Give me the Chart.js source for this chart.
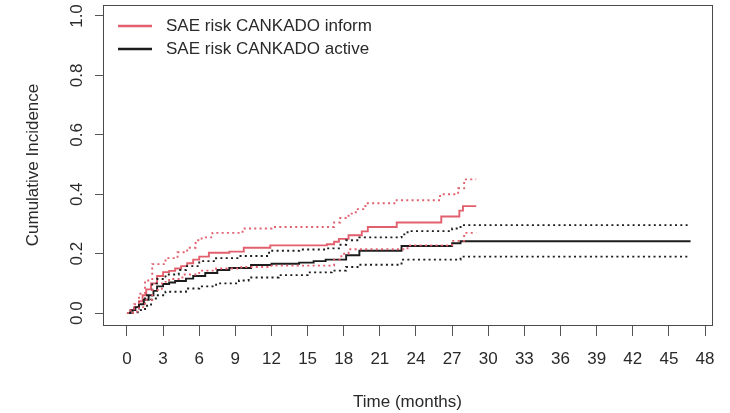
<!DOCTYPE html>
<html>
<head>
<meta charset="utf-8">
<script src="https://cdn.jsdelivr.net/npm/chart.js@4/dist/chart.umd.min.js"></script>
<style>
  html, body { margin: 0; padding: 0; background: #ffffff; }
  #wrap { width: 730px; height: 413px; position: relative; }
</style>
</head>
<body>
<div id="wrap"><canvas id="c" width="730" height="413"></canvas></div>
<script>
// ---- data ----
const seriesNames = ['SAE risk CANKADO inform', 'SAE risk CANKADO active'];
const xTickValues = [0, 3, 6, 9, 12, 15, 18, 21, 24, 27, 30, 33, 36, 39, 42, 45, 48];
const yTickValues = [0, 0.2, 0.4, 0.6, 0.8, 1.0];
const xTitle = 'Time (months)';
const yTitle = 'Cumulative Incidence';

const informTime = [0, 0.3, 0.6, 1.0, 1.3, 1.6, 2.0, 2.5, 3.0, 3.5, 4.0, 4.5, 5.0, 5.5, 6.0, 6.8, 8.5, 9.7, 11.9, 16.6, 17.2, 17.6, 18.4, 19.5, 20.0, 22.4, 26.1, 27.6, 27.9, 29.0];
const informEst  = [0, 0.01, 0.02, 0.04, 0.06, 0.08, 0.10, 0.125, 0.138, 0.142, 0.15, 0.158, 0.168, 0.18, 0.19, 0.203, 0.207, 0.22, 0.228, 0.232, 0.24, 0.25, 0.262, 0.275, 0.29, 0.305, 0.325, 0.345, 0.36, 0.36];

const informUpperTime = [0, 0.3, 0.6, 1.0, 1.5, 2.1, 3.2, 4.2, 5.0, 5.7, 6.2, 7.1, 9.6, 12.0, 17.2, 17.7, 18.4, 19.0, 19.8, 22.4, 26.0, 27.5, 28.0, 29.0];
const informUpper     = [0, 0.01, 0.03, 0.065, 0.11, 0.165, 0.185, 0.205, 0.22, 0.245, 0.255, 0.27, 0.285, 0.29, 0.305, 0.32, 0.335, 0.35, 0.37, 0.38, 0.40, 0.42, 0.45, 0.45];

const informLowerTime = [0, 0.5, 1.0, 1.5, 2.1, 2.9, 3.5, 4.6, 6.0, 7.4, 9.5, 12.0, 17.2, 17.8, 18.4, 23.3, 27.0, 28.0, 29.0];
const informLower     = [0, 0.005, 0.02, 0.045, 0.078, 0.105, 0.115, 0.13, 0.143, 0.15, 0.155, 0.16, 0.18, 0.2, 0.215, 0.228, 0.243, 0.27, 0.27];

const activeTime = [0, 0.3, 0.7, 1.0, 1.4, 1.8, 2.2, 2.5, 3.0, 3.5, 4.0, 4.9, 5.5, 6.5, 7.5, 8.5, 10.3, 12.0, 14.3, 15.5, 16.5, 18.2, 19.3, 22.8, 27.0, 27.7, 46.8];
const activeEst  = [0, 0.01, 0.02, 0.03, 0.045, 0.06, 0.075, 0.09, 0.098, 0.103, 0.108, 0.116, 0.125, 0.135, 0.145, 0.152, 0.162, 0.166, 0.17, 0.175, 0.18, 0.195, 0.21, 0.226, 0.235, 0.242, 0.242];

const activeUpperTime = [0, 0.5, 1.0, 1.5, 2.1, 2.5, 3.2, 4.3, 4.9, 6.0, 7.4, 9.3, 11.8, 14.3, 16.5, 17.6, 18.2, 19.3, 22.8, 23.3, 27.0, 27.7, 46.8];
const activeUpper     = [0, 0.015, 0.035, 0.06, 0.1, 0.115, 0.13, 0.145, 0.158, 0.175, 0.185, 0.192, 0.21, 0.214, 0.218, 0.23, 0.245, 0.255, 0.265, 0.276, 0.285, 0.296, 0.296];

const activeLowerTime = [0, 0.5, 1.0, 1.5, 2.0, 2.4, 3.2, 4.9, 6.0, 7.4, 9.3, 10.1, 12.6, 15.0, 17.0, 18.2, 19.3, 22.8, 27.7, 46.8];
const activeLower     = [0, 0.003, 0.01, 0.025, 0.045, 0.06, 0.072, 0.083, 0.09, 0.1, 0.11, 0.12, 0.128, 0.137, 0.143, 0.155, 0.163, 0.18, 0.19, 0.19];

// ---- styling ----
const RED = '#e2606e';
const BLACK = '#1c1c1c';
const TEXT = '#2a2a2a';
const FONT = "'Liberation Sans', Arial, Helvetica, sans-serif";

function pts(ts, vs) { return ts.map((t, i) => ({ x: t, y: vs[i] })); }

function ds(label, ts, vs, color, dotted, legendIndex) {
  return {
    label: label,
    data: pts(ts, vs),
    borderColor: color,
    backgroundColor: color,
    borderWidth: 1.9,
    borderDash: dotted ? [2, 3.3] : [],
    stepped: true,
    pointRadius: 0,
    fill: false,
    legendIndex: legendIndex
  };
}

const frameAndLegend = {
  id: 'frameAndLegend',
  afterDraw(chart) {
    const { ctx, chartArea: a } = chart;
    ctx.save();
    ctx.strokeStyle = '#4a4a4a';
    ctx.lineWidth = 1;
    ctx.strokeRect(Math.round(a.left) + 0.5, Math.round(a.top) + 0.5,
                   Math.round(a.right - a.left), Math.round(a.bottom - a.top));
    // legend (inside plot, top-left), ordered as in seriesNames
    const items = chart.data.datasets
      .filter(d => d.legendIndex >= 0)
      .sort((p, q) => p.legendIndex - q.legendIndex);
    ctx.font = '17px ' + FONT;
    ctx.textBaseline = 'middle';
    ctx.textAlign = 'left';
    items.forEach((d, i) => {
      const y = a.top + 21 + i * 23;
      ctx.strokeStyle = d.borderColor;
      ctx.lineWidth = 2.4;
      ctx.setLineDash([]);
      ctx.beginPath();
      ctx.moveTo(a.left + 15, y);
      ctx.lineTo(a.left + 49, y);
      ctx.stroke();
      ctx.fillStyle = TEXT;
      ctx.fillText(d.label, a.left + 63, y + 0.5);
    });
    ctx.restore();
  }
};

function noPad(s) { s.paddingTop = 0; s.paddingBottom = 0; s.paddingLeft = 0; s.paddingRight = 0; }

new Chart(document.getElementById('c'), {
  type: 'line',
  data: {
    datasets: [
      ds('inform upper', informUpperTime, informUpper, RED, true, -1),
      ds('inform lower', informLowerTime, informLower, RED, true, -1),
      ds('active upper', activeUpperTime, activeUpper, BLACK, true, -1),
      ds('active lower', activeLowerTime, activeLower, BLACK, true, -1),
      ds(seriesNames[1], activeTime, activeEst, BLACK, false, 1),
      ds(seriesNames[0], informTime, informEst, RED, false, 0)
    ]
  },
  options: {
    responsive: false,
    animation: false,
    devicePixelRatio: 1,
    layout: { padding: { left: 0, top: 5, right: 18, bottom: 0 } },
    plugins: { legend: { display: false }, tooltip: { enabled: false } },
    scales: {
      x: {
        type: 'linear',
        min: -1.99,
        max: 48.58,
        afterBuildTicks(s) { s.ticks = xTickValues.map(v => ({ value: v })); },
        afterFit(s) { s.height = 88; noPad(s); },
        border: { display: false },
        grid: { drawOnChartArea: false, drawTicks: true, tickLength: 11, color: '#555', lineWidth: 1 },
        ticks: {
          color: TEXT, font: { size: 17, family: FONT }, padding: 13,
          maxRotation: 0, minRotation: 0, autoSkip: false,
          callback: v => String(v)
        },
        title: { display: true, text: xTitle, color: TEXT, font: { size: 17, family: FONT }, padding: { top: 0, bottom: 0 } }
      },
      y: {
        type: 'linear',
        min: -0.04,
        max: 1.037,
        afterBuildTicks(s) { s.ticks = yTickValues.map(v => ({ value: v })); },
        afterFit(s) { s.width = 103; noPad(s); },
        border: { display: false },
        grid: { drawOnChartArea: false, drawTicks: true, tickLength: 8, color: '#555', lineWidth: 1 },
        ticks: {
          color: TEXT, font: { size: 17, family: FONT }, padding: 6,
          minRotation: 90, maxRotation: 90, crossAlign: 'center', autoSkip: false,
          callback: v => Number(v).toFixed(1)
        },
        title: { display: true, text: yTitle, color: TEXT, font: { size: 17, family: FONT }, padding: { top: 23, bottom: 0 } }
      }
    }
  },
  plugins: [frameAndLegend]
});
</script>
</body>
</html>
